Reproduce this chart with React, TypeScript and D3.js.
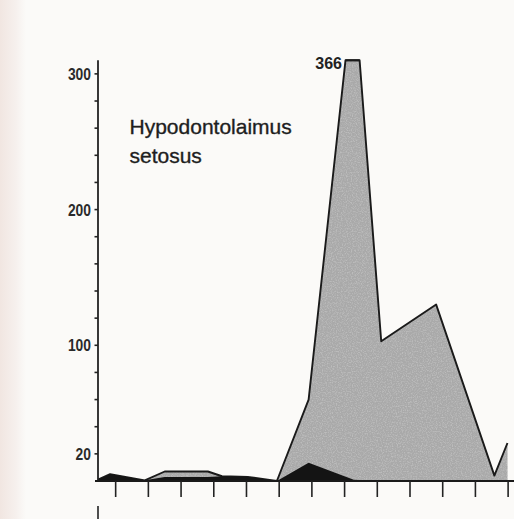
import React from "react";
import * as d3 from "d3";

// Sampling positions (month index along the x axis, ticks at integers)
const samplePos = [-0.54, -0.17, 0.89, 1.5, 2.82, 3.25, 4.04, 4.65, 4.93, 5.9, 7.28, 8.12, 9.8, 11.58, 11.98];
// Total abundance (grey area)
const totalValues = [1, 5, 0.5, 7, 7, 3.5, 3, 1, 0, 60, 366, 103, 130, 4, 28];
// Sub-component (black area)
const blackValues = [1, 5, 0.5, 3, 3, 3.5, 3, 1, 0, 13.5, 1, 0, 0, 0, 0];

const yTickValues = [20, 40, 60, 80, 100, 120, 140, 160, 180, 200, 220, 240, 260, 280, 300];
const yTickLabels = [20, 100, 200, 300];
const xTickValues = [0, 1, 2, 3, 4, 5, 6, 7, 8, 9, 10, 11, 12];
const titleLines = ["Hypodontolaimus", "setosus"];
const peakLabel = "366";
const yMax = 310;

const W = 514;
const H = 519;

type P = { x: number; v: number };

function clipSeries(xs: number[], vs: number[], cap: number) {
  const out: P[] = [];
  const crossings: number[] = [];
  for (let i = 0; i < xs.length; i++) {
    if (i > 0) {
      const a = vs[i - 1], b = vs[i];
      if ((a - cap) * (b - cap) < 0) {
        const t = (cap - a) / (b - a);
        const xc = xs[i - 1] + t * (xs[i] - xs[i - 1]);
        out.push({ x: xc, v: cap });
        crossings.push(xc);
      }
    }
    out.push({ x: xs[i], v: Math.min(vs[i], cap) });
  }
  return { pts: out, crossings };
}

export default function App() {
  const x = d3.scaleLinear().domain([-0.54, 12.18]).range([98, 514]);
  const y = d3.scaleLinear().domain([0, yMax]).range([481, 60.3]);

  const { pts: totalPts, crossings } = clipSeries(samplePos, totalValues, yMax);
  const blackPts: P[] = samplePos.map((s, i) => ({ x: s, v: blackValues[i] }));

  const area = d3
    .area<P>()
    .x((d) => x(d.x))
    .y0(y(0))
    .y1((d) => y(d.v));
  const line = d3
    .line<P>()
    .x((d) => x(d.x))
    .y((d) => y(d.v));

  const font = "'Liberation Sans', Arial, Helvetica, sans-serif";

  return (
    <div style={{ position: "fixed", left: 0, top: 0, width: W, height: H }}>
      <svg width={W} height={H} viewBox={`0 0 ${W} ${H}`} style={{ display: "block" }}>
        <defs>
          <linearGradient id="gutter" x1="0" x2="1" y1="0" y2="0">
            <stop offset="0" stopColor="#f1e6e1" />
            <stop offset="0.6" stopColor="#f6f0ed" />
            <stop offset="1" stopColor="#fbfaf8" />
          </linearGradient>
          <filter id="speckle" x="0" y="0" width="100%" height="100%">
            <feTurbulence type="fractalNoise" baseFrequency="0.8" numOctaves="2" seed="3" result="n" />
            <feColorMatrix
              in="n"
              type="matrix"
              values="0 0 0 0 0.5  0 0 0 0 0.5  0 0 0 0 0.5  0 0 0 -3 1.7"
              result="dots"
            />
            <feComposite in="dots" in2="SourceGraphic" operator="in" result="d2" />
            <feMerge>
              <feMergeNode in="SourceGraphic" />
              <feMergeNode in="d2" />
            </feMerge>
          </filter>
        </defs>
        <rect x={0} y={0} width={W} height={H} fill="#fbfaf8" />
        <rect x={0} y={0} width={26} height={H} fill="url(#gutter)" />

        {/* grey total area */}
        <path d={area(totalPts) || ""} fill="#a9a9a9" filter="url(#speckle)" />
        <path d={line(totalPts) || ""} fill="none" stroke="#1a1a1a" strokeWidth={1.9} strokeLinejoin="round" />
        {crossings.length === 2 && (
          <line
            x1={x(crossings[0])}
            x2={x(crossings[1])}
            y1={y(yMax)}
            y2={y(yMax)}
            stroke="#1a1a1a"
            strokeWidth={1.9}
          />
        )}
        {/* black component */}
        <path d={area(blackPts) || ""} fill="#141414" />

        {/* y axis */}
        <line x1={98} x2={98} y1={y(yMax)} y2={y(0)} stroke="#222" strokeWidth={1.8} />
        {yTickValues.map((v) => (
          <line key={v} x1={94.5} x2={98} y1={y(v)} y2={y(v)} stroke="#222" strokeWidth={1.6} />
        ))}
        {yTickLabels.map((v) => (
          <text
            key={v}
            x={91}
            y={y(v) + 6}
            textAnchor="end"
            fontFamily={font}
            fontSize={16.5}
            fontWeight={700}
            fill="#2a2a2a"
            transform={`translate(${91 * 0.16},0) scale(0.84,1)`}
          >
            {v}
          </text>
        ))}

        {/* x axis */}
        <line x1={95} x2={W} y1={y(0)} y2={y(0)} stroke="#1a1a1a" strokeWidth={2.2} />
        {xTickValues.map((t) => (
          <line key={t} x1={x(t)} x2={x(t)} y1={y(0)} y2={y(0) + 16} stroke="#222" strokeWidth={1.6} />
        ))}
        {/* axis of the panel below */}
        <line x1={98} x2={98} y1={506} y2={H} stroke="#222" strokeWidth={1.6} />

        {/* title */}
        {titleLines.map((t, i) => (
          <text
            key={t}
            x={129.5}
            y={134 + i * 28.5}
            fontFamily={font}
            fontSize={21}
            fill="#1e1e1e"
            stroke="#1e1e1e"
            strokeWidth={0.35}
          >
            {t}
          </text>
        ))}

        {/* peak label */}
        {crossings.length === 2 && (
          <text
            x={x(crossings[0]) - 3.5}
            y={y(yMax) + 8.5}
            textAnchor="end"
            fontFamily={font}
            fontSize={16}
            fontWeight={700}
            fill="#222"
          >
            {peakLabel}
          </text>
        )}
      </svg>
    </div>
  );
}
